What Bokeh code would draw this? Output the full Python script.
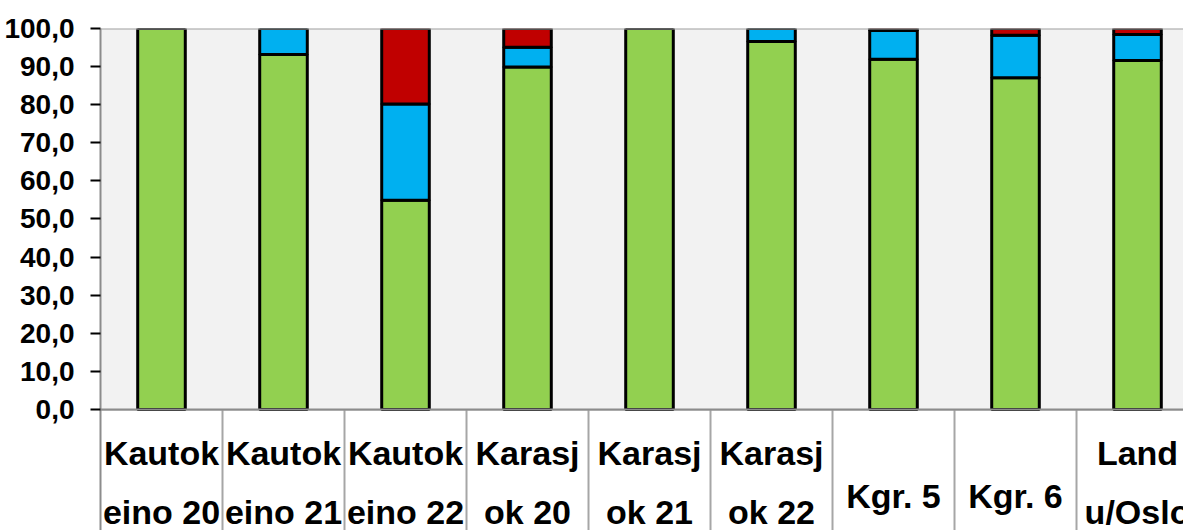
from bokeh.plotting import figure
from bokeh.models import ColumnDataSource, FixedTicker, BoxAnnotation, Span
from bokeh.core.properties import value
from bokeh.embed import file_html
from bokeh.resources import INLINE

# ---- data ----
categories = ["Kautok\neino 20", "Kautok\neino 21", "Kautok\neino 22",
              "Karasj\nok 20", "Karasj\nok 21", "Karasj\nok 22",
              "Kgr. 5", "Kgr. 6", "Land\nu/Oslo"]
green = [100.0, 93.2, 54.9, 89.9, 100.0, 96.6, 91.9, 87.1, 91.6]
blue = [0.0, 6.8, 25.3, 5.2, 0.0, 3.4, 7.6, 11.1, 6.8]
red = [0.0, 0.0, 19.8, 4.9, 0.0, 0.0, 0.5, 1.8, 1.6]
y_ticks = [0, 10, 20, 30, 40, 50, 60, 70, 80, 90, 100]

FONT_STR = "Liberation Sans"
FONT = value(FONT_STR)

n = len(categories)
xs = [i + 0.5 for i in range(n)]
source = ColumnDataSource(dict(x=xs, green=green, blue=blue, red=red))

p = figure(width=1183, height=530, x_range=(0, 8.877), y_range=(-31.76, 100),
           output_backend="svg", toolbar_location=None,
           min_border_left=100, min_border_right=0, min_border_top=28, min_border_bottom=0)
p.background_fill_color = "white"
p.border_fill_color = "white"
p.outline_line_color = None

# plot-area background (0..100)
p.add_layout(BoxAnnotation(bottom=0, top=100, left=0, right=n,
                           fill_color="#F2F2F2", fill_alpha=1, line_color=None,
                           level="underlay"))

# axes
p.xaxis.visible = False
p.xgrid.visible = False
p.yaxis.ticker = FixedTicker(ticks=y_ticks)
p.yaxis.major_label_overrides = {v: f"{v:.1f}".replace(".", ",") for v in y_ticks}
p.yaxis.major_label_text_font = FONT_STR
p.yaxis.major_label_text_font_size = "28px"
p.yaxis.major_label_text_font_style = "bold"
p.yaxis.major_label_text_color = "black"
p.yaxis.major_label_standoff = 16
p.yaxis.major_tick_out = 10
p.yaxis.major_tick_in = 0
p.yaxis.major_tick_line_color = "black"
p.yaxis.major_tick_line_width = 2
p.yaxis.minor_tick_line_color = None
p.yaxis.axis_line_color = "#8C8C8C"
p.yaxis.axis_line_width = 2

p.ygrid.grid_line_color = "#303030"
p.ygrid.grid_line_width = 1.6

# top border and baseline
p.add_layout(Span(location=100, dimension="width", line_color="#A0A0A0", line_width=2))
p.add_layout(Span(location=0, dimension="width", line_color="#8C8C8C", line_width=2))

# separators of the category label boxes
p.segment(x0=list(range(1, n)), y0=[0] * (n - 1), x1=list(range(1, n)), y1=[-40] * (n - 1),
          line_color="#A6A6A6", line_width=2)

# stacked bars
p.vbar_stack(["green", "blue", "red"], x="x", width=0.39, source=source,
             fill_color=["#92D050", "#00B0F0", "#C00000"],
             line_color="black", line_width=3)

# category labels
l1x, l1t, l2x, l2t, sx, st = [], [], [], [], [], []
for x, c in zip(xs, categories):
    parts = c.split("\n")
    if len(parts) == 2:
        l1x.append(x); l1t.append(parts[0])
        l2x.append(x); l2t.append(parts[1])
    else:
        sx.append(x); st.append(parts[0])

common = dict(text_font=FONT, text_font_size="34px", text_font_style="bold",
              text_color="black", text_align="center", text_baseline="alphabetic")
p.text(x=l1x, y=[-11.4] * len(l1x), text=l1t, **common)
p.text(x=l2x, y=[-26.9] * len(l2x), text=l2t, **common)
p.text(x=sx, y=[-22.7] * len(sx), text=st, **common)

open("out.html", "w").write(file_html(p, INLINE))
